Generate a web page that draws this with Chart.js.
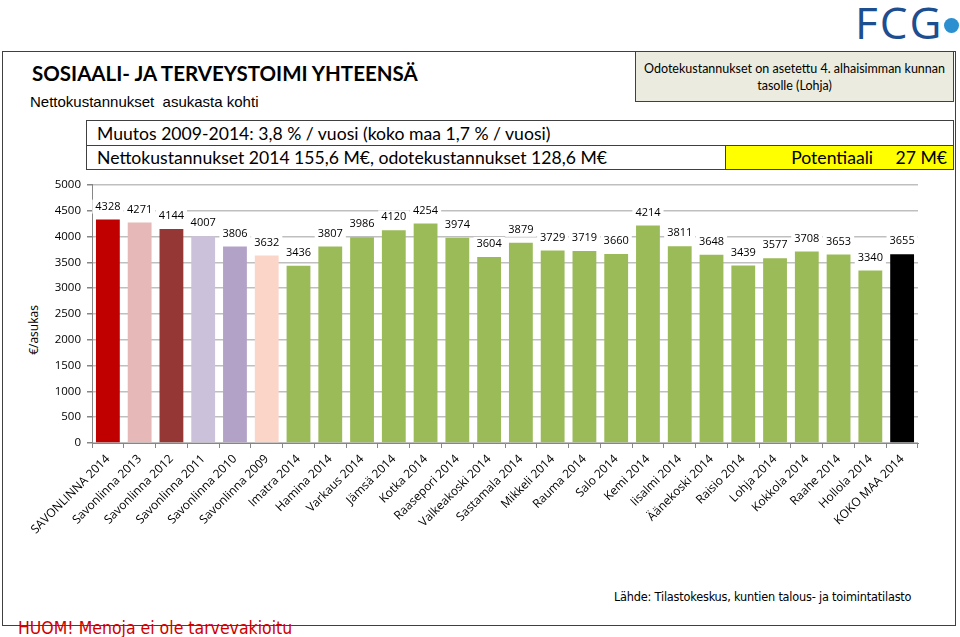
<!DOCTYPE html>
<html>
<head>
<meta charset="utf-8">
<script src="https://cdn.jsdelivr.net/npm/chart.js@4.4.0/dist/chart.umd.min.js"></script>
<style>
  body { margin: 0; background: #fff; width: 960px; height: 637px; position: relative; overflow: hidden; font-family: "Open Sans", sans-serif; }
  .abs { position: absolute; }
  #frame { left: 2px; top: 51px; width: 952px; height: 573px; border: 1px solid #404040; }
  #title { left: 32px; top: 61px; font: bold 20.5px Lato, sans-serif; color: #000; white-space: nowrap; }
  #subtitle { left: 30px; top: 93px; font: 15px "Liberation Sans", Arial, sans-serif; color: #000; }
  #note { left: 635px; top: 51px; width: 319px; height: 51px; background: #ebecdf; border: 1px solid #404040; font: 12.5px Lato, sans-serif; text-align: center; line-height: 17px; padding-top: 8px; box-sizing: border-box; }
  #row1 { left: 86px; top: 120px; width: 868px; height: 25px; border: 1px solid #404040; border-bottom: none; font: 17.6px Lato, sans-serif; line-height: 25px; padding-left: 10px; box-sizing: border-box; }
  #row2 { left: 86px; top: 145px; width: 868px; height: 25px; border: 1px solid #404040; font: 17.6px Lato, sans-serif; line-height: 24px; padding-left: 10px; box-sizing: border-box; }
  #pot { left: 725px; top: 145px; width: 229px; height: 25px; background: #ffff00; border: 1px solid #404040; font: 17.6px Lato, sans-serif; line-height: 24px; box-sizing: border-box; text-align: right; padding-right: 6px; }
  #ytitle { left: 33px; top: 330px; transform: translate(-50%, -50%) rotate(-90deg); font: 12px "Open Sans", sans-serif; }
  #source { left: 614px; top: 589px; font: 12.6px "Liberation Sans Narrow", "DejaVu Sans Condensed", sans-serif; letter-spacing: -0.2px; }
  #huom { left: 18px; top: 618px; font: 17.5px "DejaVu Sans Condensed", sans-serif; color: #d00000; }
  #logo { left: 855px; top: -8px; font: 44px "Open Sans", sans-serif; color: #1d4e8f; letter-spacing: 2px; }
  #dot { left: 944px; top: 18px; width: 15px; height: 15px; border-radius: 50%; background: #2b8fd0; }
  canvas { position: absolute; left: 2px; top: 172px; }
</style>
</head>
<body>
<div id="frame" class="abs"></div>
<div id="title" class="abs">SOSIAALI- JA TERVEYSTOIMI YHTEENSÄ</div>
<div id="subtitle" class="abs">Nettokustannukset&nbsp; asukasta kohti</div>
<div id="note" class="abs">Odotekustannukset on asetettu 4. alhaisimman kunnan<br>tasolle (Lohja)</div>
<div id="row1" class="abs">Muutos 2009-2014: 3,8 % / vuosi (koko maa 1,7 % / vuosi)</div>
<div id="row2" class="abs">Nettokustannukset 2014 155,6 M€, odotekustannukset 128,6 M€</div>
<div id="pot" class="abs">Potentiaali&nbsp;&nbsp;&nbsp;&nbsp; 27 M€</div>
<div id="ytitle" class="abs">€/asukas</div>
<div id="source" class="abs">Lähde: Tilastokeskus, kuntien talous- ja toimintatilasto</div>
<div id="huom" class="abs">HUOM! Menoja ei ole tarvevakioitu</div>
<div id="logo" class="abs">FCG</div>
<div id="dot" class="abs"></div>
<canvas id="barChart" width="953" height="420"></canvas>
<script>
const categories = [
  "SAVONLINNA 2014", "Savonlinna 2013", "Savonlinna 2012", "Savonlinna 2011",
  "Savonlinna 2010", "Savonlinna 2009", "Imatra 2014", "Hamina 2014",
  "Varkaus 2014", "Jämsä 2014", "Kotka 2014", "Raasepori 2014",
  "Valkeakoski 2014", "Sastamala 2014", "Mikkeli 2014", "Rauma 2014",
  "Salo 2014", "Kemi 2014", "Iisalmi 2014", "Äänekoski 2014",
  "Raisio 2014", "Lohja 2014", "Kokkola 2014", "Raahe 2014",
  "Hollola 2014", "KOKO MAA 2014"
];
const costs = [
  4328, 4271, 4144, 4007, 3806, 3632, 3436, 3807, 3986, 4120, 4254, 3974, 3604,
  3879, 3729, 3719, 3660, 4214, 3811, 3648, 3439, 3577, 3708, 3653, 3340, 3655
];
const yTicks = [0, 500, 1000, 1500, 2000, 2500, 3000, 3500, 4000, 4500, 5000];

const green = "#9bbb59";
const barColors = ["#c00000", "#e6b9b8", "#953735", "#ccc1da", "#b3a2c7", "#fcd5c9"];
while (barColors.length < costs.length - 1) barColors.push(green);
barColors.push("#000000");

// value labels with white background (they cut the gridlines like in Excel)
const valueLabels = {
  id: "valueLabels",
  afterDatasetsDraw(chart) {
    const ctx = chart.ctx;
    const meta = chart.getDatasetMeta(0);
    ctx.save();
    ctx.font = "11px 'Open Sans', sans-serif";
    ctx.textAlign = "center";
    ctx.textBaseline = "middle";
    meta.data.forEach(function(bar, i) {
      const txt = String(costs[i]);
      const w = ctx.measureText(txt).width + 6;
      const y = bar.y - 13;
      ctx.fillStyle = "#fff";
      ctx.fillRect(bar.x - w / 2, y - 7, w, 14);
      ctx.fillStyle = "#000";
      ctx.fillText(txt, bar.x, y);
    });
    ctx.restore();
  }
};

ctxBar = document.getElementById("barChart").getContext("2d");
barChart = new Chart(ctxBar, {
  type: "bar",
  data: {
    labels: categories,
    datasets: [{
      data: costs,
      backgroundColor: barColors,
      barPercentage: 0.75,
      categoryPercentage: 1
    }]
  },
  options: {
    responsive: false,
    animation: false,
    layout: { padding: { top: 11, right: 37, left: 0, bottom: 0 } },
    plugins: { legend: { display: false }, tooltip: { enabled: false } },
    scales: {
      x: {
        afterFit: function(scale) { scale.height = 149; },
        grid: { drawOnChartArea: false, drawTicks: true, tickLength: 5, color: "#868686" },
        border: { color: "#868686" },
        ticks: {
          color: "#000",
          font: { family: "'Open Sans', sans-serif", size: 12 },
          minRotation: 45,
          maxRotation: 45,
          padding: 4,
          autoSkip: false
        }
      },
      y: {
        min: 0,
        max: 5000,
        afterFit: function(scale) { scale.width = 90; },
        afterBuildTicks: function(scale) {
          scale.ticks = yTicks.map(function(v) { return { value: v }; });
        },
        grid: { color: "#bfbfbf", lineWidth: 1.5, tickLength: 5, tickColor: "#868686" },
        border: { color: "#868686" },
        ticks: {
          color: "#000",
          font: { family: "'Open Sans', sans-serif", size: 11.5 },
          padding: 6,
          callback: function(v) { return String(v); }
        }
      }
    }
  },
  plugins: [valueLabels]
});
</script>
</body>
</html>
